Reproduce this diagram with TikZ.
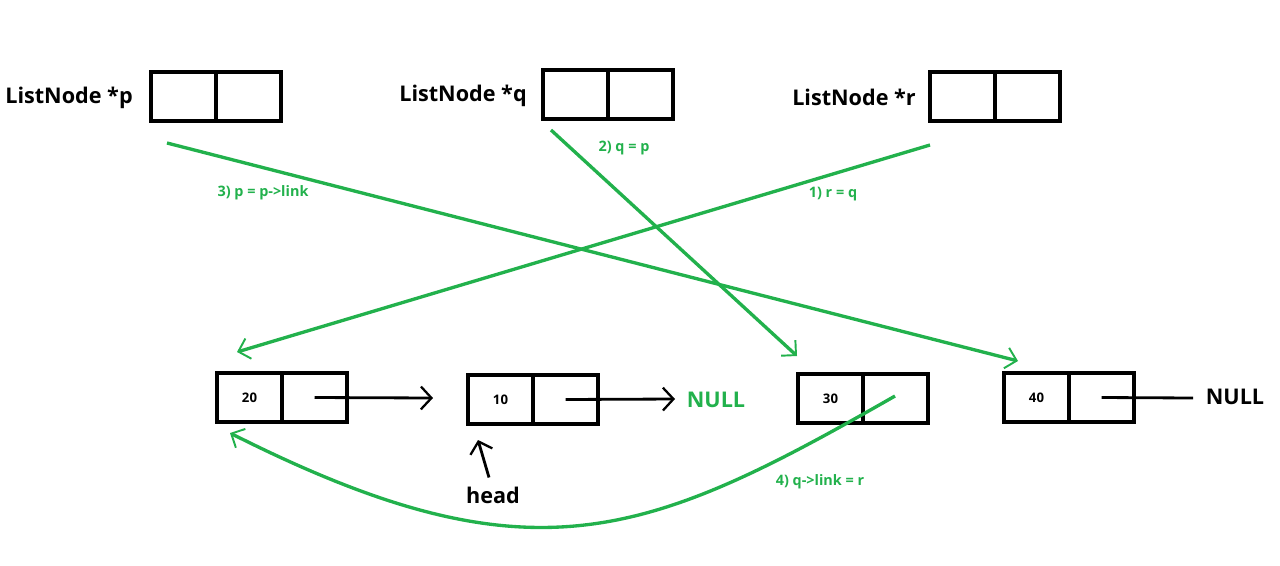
\documentclass[tikz,border=0pt]{standalone}
\usepackage{fontspec}
\setmainfont{Open Sans}
\usetikzlibrary{arrows.meta}
\definecolor{paintgreen}{RGB}{34,177,76}

\begin{document}
\begin{tikzpicture}[
        x=0.02cm, y=-0.02cm,
        cell/.style={draw, line width=1.9pt, minimum width=1.3cm, minimum height=0.98cm,
            inner sep=0pt, font=\bfseries\fontsize{7.5}{8}\selectfont},
        ptrlabel/.style={font=\bfseries\fontsize{12.3}{14}\selectfont},
        steplabel/.style={text=paintgreen, font=\bfseries\fontsize{8.2}{9}\selectfont},
        move/.style={draw=paintgreen, line width=1.9pt,
            -{Straight Barb[length=6pt,width=12pt,line width=1.1pt]}},
        link/.style={line width=1.6pt,
            -{Straight Barb[length=6pt,width=13pt,line width=1.3pt]}}
    ]
    \useasboundingbox (0,0) rectangle (1280,565);

    \node[ptrlabel] (plabel) at (69,98) {ListNode *p};
    \node[cell] (pval) at (183.5,96.5) {};
    \node[cell] (plink) at (248.5,96.5) {};
    \node[ptrlabel] (qlabel) at (463,96) {ListNode *q};
    \node[cell] (qval) at (575.5,94.5) {};
    \node[cell] (qlink) at (640.5,94.5) {};
    \node[ptrlabel] (rlabel) at (854,97) {ListNode *r};
    \node[cell] (rval) at (962.5,96.5) {};
    \node[cell] (rlink) at (1027.5,96.5) {};

    \node[cell] (n20val) at (249.5,397.5) {20};
    \node[cell] (n20link) at (314.5,397.5) {};
    \node[cell] (n10val) at (500.5,399.5) {10};
    \node[cell] (n10link) at (565.5,399.5) {};
    \node[cell] (n30val) at (830.5,398.5) {30};
    \node[cell] (n30link) at (895.5,398.5) {};
    \node[cell] (n40val) at (1036.5,397.5) {40};
    \node[cell] (n40link) at (1101.5,397.5) {};

    \node[ptrlabel, text=paintgreen] (null10) at (716,400) {NULL};
    \node[ptrlabel] (null40) at (1235,397) {NULL};
    \node[ptrlabel] (head) at (493,495) {head};

    \coordinate (pfrom) at (167,143);
    \coordinate (pto) at (1018,361);
    \coordinate (qfrom) at (551,130);
    \coordinate (qto) at (797,356);
    \coordinate (rfrom) at (930,145);
    \coordinate (rto) at (237,352);
    \coordinate (curvefrom) at (895,396);
    \coordinate (curveto) at (230,433);
    \coordinate (next20) at (433,398);
    \coordinate (next10) at (675,399);
    \coordinate (end40) at (1193,398);
    \coordinate (headtip) at (478,440);

    \draw[link] (n20link.center) -- (next20);
    \draw[link] (n10link.center) -- (next10);
    \draw[line width=1.6pt] (n40link.center) -- (end40);
    \draw[link] (head.north) ++(-4,-3) -- (headtip);

    \draw[move] (pfrom) -- (pto);
    \draw[move] (qfrom) -- (qto);
    \draw[move] (rfrom) -- (rto);
    \draw[move] (curvefrom) .. controls (645,539) and (532,585) .. (curveto);

    \node[steplabel] (step1) at (833,194) {1) r = q};
    \node[steplabel] (step2) at (624,148) {2) q = p};
    \node[steplabel] (step3) at (263,193) {3) p = p->link};
    \node[steplabel] (step4) at (820,482) {4) q->link = r};
\end{tikzpicture}
\end{document}
